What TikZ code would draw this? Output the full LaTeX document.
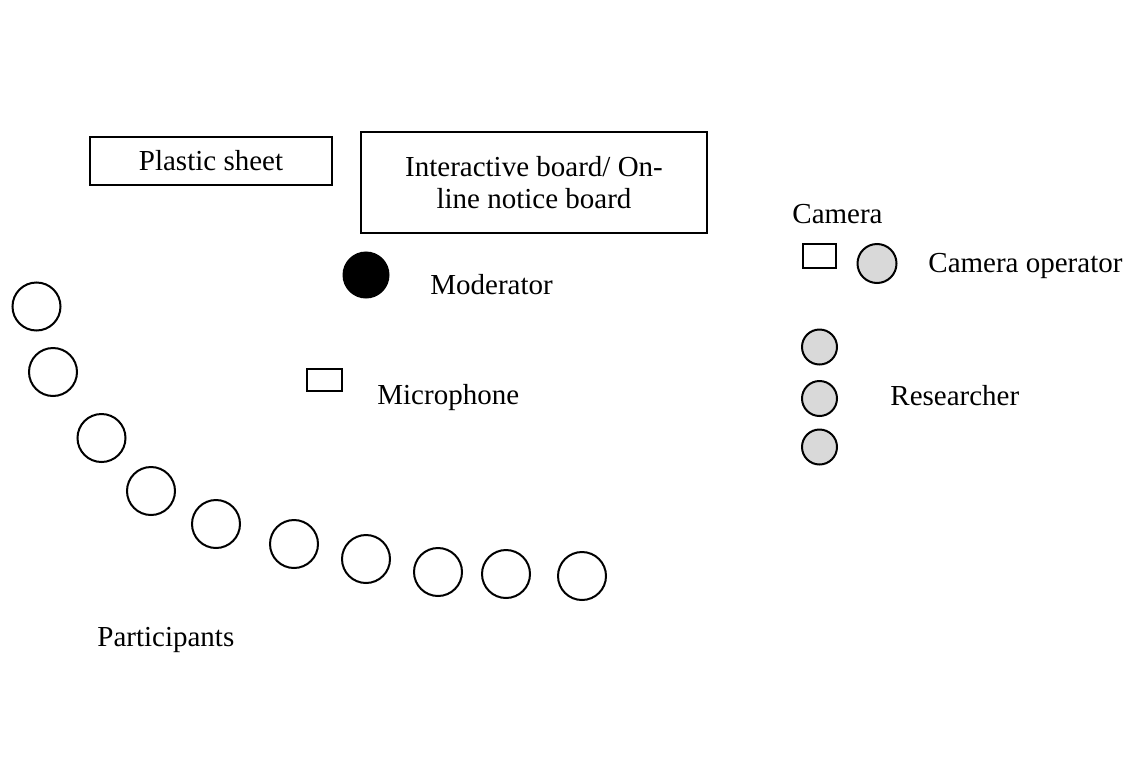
\documentclass[tikz,border=0pt]{standalone}
\usepackage{fontspec}
\setmainfont{Liberation Serif}
\usepackage{tikz}
\definecolor{staffgray}{HTML}{D9D9D9}

\begin{document}
\begin{tikzpicture}[x=0.5pt,y=-0.5pt,font=\fontsize{14.5}{16}\selectfont,
  seat/.style={circle,draw,line width=1pt,minimum size=24pt,inner sep=0pt},
  staff/.style={seat,fill=staffgray,minimum size=17.5pt},
  boardbox/.style={draw,line width=0.9pt,inner sep=0pt,align=center},
  lbl/.style={anchor=base west,inner sep=0pt}]
  \useasboundingbox (0,0) rectangle (1134,760);
  % ---- front of the room: the two boards ----
  \node[boardbox,minimum width=121pt,minimum height=24pt] (sheet) at (211,161) {Plastic sheet};
  \node[boardbox,minimum width=173pt,minimum height=50.5pt] (board) at (534,182.5)
        {Interactive board/ On-\\line notice board};
  % ---- moderator and microphone ----
  \node[seat,fill=black,minimum size=22.5pt] (mod) at (366,275) {};
  \node[lbl] (modlbl) at (430,294) {Moderator};
  \node[boardbox,minimum width=17.5pt,minimum height=11pt] (mic) at (324.5,380) {};
  \node[lbl] (miclbl) at (377,404) {Microphone};
  % ---- camera and research team ----
  \node[lbl] (camlbl) at (792,223) {Camera};
  \node[boardbox,minimum width=16.5pt,minimum height=12pt] (cam) at (819.5,256) {};
  \node[staff,minimum size=19.5pt] (camop) at (877,263.5) {};
  \node[lbl] (camoplbl) at (928,272) {Camera operator};
  \foreach \y [count=\i] in {347,398.5,447}
    \node[staff] (res\i) at (819.5,\y) {};
  \node[lbl] (reslbl) at (890,405) {Researcher};
  % ---- participants along the arc ----
  \foreach \x/\y [count=\i] in {36.5/306.5,53/372,101.5/438,151/491,216/524,
                               294/544,366/559,438/572,506/574,582/576}
    \node[seat] (p\i) at (\x,\y) {};
  \node[lbl] (plbl) at (97,646) {Participants};
\end{tikzpicture}
\end{document}
